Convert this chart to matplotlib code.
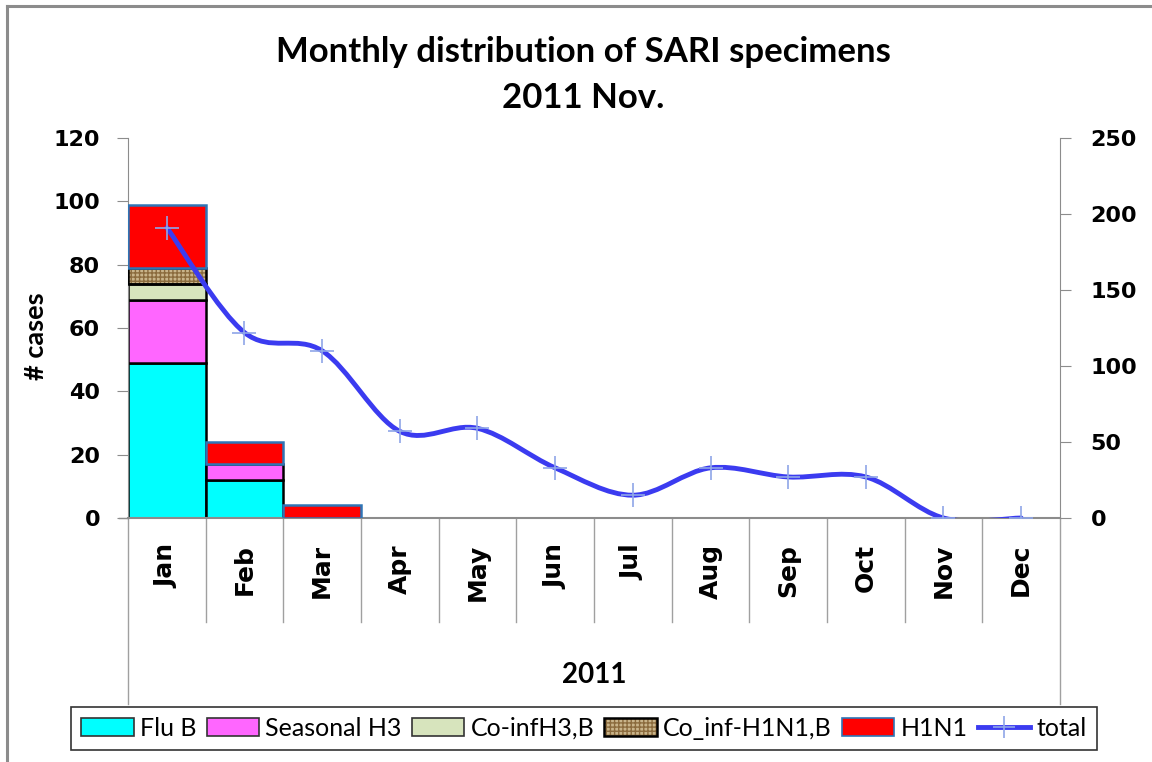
import matplotlib
matplotlib.use("Agg")
import matplotlib.pyplot as plt
import numpy as np
from matplotlib.patches import Patch
from matplotlib.lines import Line2D
from matplotlib.path import Path
from matplotlib.patches import PathPatch
from matplotlib.legend_handler import HandlerTuple

months = ["Jan", "Feb", "Mar", "Apr", "May", "Jun", "Jul", "Aug", "Sep", "Oct", "Nov", "Dec"]
flu_b = [49, 12, 0, 0, 0, 0, 0, 0, 0, 0, 0, 0]
seasonal_h3 = [20, 5, 0, 0, 0, 0, 0, 0, 0, 0, 0, 0]
coinf_h3_b = [5, 0, 0, 0, 0, 0, 0, 0, 0, 0, 0, 0]
coinf_h1n1_b = [5, 0, 0, 0, 0, 0, 0, 0, 0, 0, 0, 0]
h1n1 = [20, 7, 4, 0, 0, 0, 0, 0, 0, 0, 0, 0]
total = [191, 122, 110, 57, 59, 33, 15, 33, 27, 27, 0, 0]
left_ticks = [0, 20, 40, 60, 80, 100, 120]
right_ticks = [0, 50, 100, 150, 200, 250]

W, H = 1152, 762
fig = plt.figure(figsize=(W / 100, H / 100), dpi=100)

def fx(px):
    return px / W

def fy(py):
    return 1 - py / H

L, R, T, B = 128, 1060, 138, 518
ax = fig.add_axes([fx(L), fy(B), fx(R) - fx(L), fy(T) - fy(B)])
ax2 = ax.twinx()

gray = "#8c8c8c"
x = np.arange(len(months))
series = [
    ("Flu B", flu_b, "#00FFFF", "black"),
    ("Seasonal H3", seasonal_h3, "#FF66FF", "black"),
    ("Co-infH3,B", coinf_h3_b, "#D7E4BD", "black"),
    ("Co_inf-H1N1,B", coinf_h1n1_b, "#C9B48A", "black"),
    ("H1N1", h1n1, "#FF0000", "#2E75B6"),
]
bottom = np.zeros(len(months))
handles = []
for name, vals, fc, ec in series:
    vals = np.array(vals, dtype=float)
    mask = vals > 0
    if name == "Co_inf-H1N1,B":
        ax.bar(x[mask], vals[mask], bottom=bottom[mask], width=1.0, color=fc,
               edgecolor="#8B6B3D", hatch="++++", linewidth=0, zorder=2)
        ax.bar(x[mask], vals[mask], bottom=bottom[mask], width=1.0, fill=False,
               edgecolor=ec, linewidth=1.8, zorder=3)
        h = (Patch(facecolor=fc, edgecolor="#8B6B3D", hatch="++++", linewidth=0),
             Patch(fill=False, edgecolor="black", linewidth=1.8))
    else:
        ax.bar(x[mask], vals[mask], bottom=bottom[mask], width=1.0, color=fc,
               edgecolor=ec, linewidth=1.8, zorder=3 if ec != "black" else 2.5)
        h = Patch(facecolor=fc, edgecolor=ec if ec != "black" else "#333333", linewidth=1.2)
    handles.append((h, name))
    bottom += vals

ax.set_xlim(-0.5, len(months) - 0.5)
ax.set_ylim(0, 120)
ax.set_yticks(left_ticks)
ax2.set_ylim(0, 250)
ax2.set_yticks(right_ticks)

# smoothed total line (Excel-like Bezier smoothing)
tx = x.astype(float)
ty = np.array(total, dtype=float)
verts = [(tx[0], ty[0])]
codes = [Path.MOVETO]
n = len(tx)
for i in range(n - 1):
    p0 = np.array([tx[max(i - 1, 0)], ty[max(i - 1, 0)]])
    p1 = np.array([tx[i], ty[i]])
    p2 = np.array([tx[i + 1], ty[i + 1]])
    p3 = np.array([tx[min(i + 2, n - 1)], ty[min(i + 2, n - 1)]])
    c1 = p1 + (p2 - p0) / 6.0
    c2 = p2 - (p3 - p1) / 6.0
    verts += [tuple(c1), tuple(c2), tuple(p2)]
    codes += [Path.CURVE4] * 3
ax2.add_patch(PathPatch(Path(verts, codes), fill=False, edgecolor="#3B3BF0",
                        linewidth=3.5, capstyle="round", joinstyle="round", zorder=4))
ax2.plot(tx, ty, linestyle="none", marker="+", markersize=17, mew=1.2,
         color="#8FA6E8", zorder=5)
line_handle = Line2D([], [], color="#3B3BF0", linewidth=3.5, marker="+",
                     markersize=16, mew=1.2, markeredgecolor="#8FA6E8")
handles.append((line_handle, "total"))

for a in (ax, ax2):
    for s in a.spines.values():
        s.set_visible(False)
    a.tick_params(axis="x", length=0, labelbottom=False)
    a.set_xticks([])
ax.spines["left"].set_visible(True)
ax.spines["left"].set_color(gray)
ax.spines["bottom"].set_visible(True)
ax.spines["bottom"].set_color(gray)
ax.spines["bottom"].set_linewidth(1.5)
ax2.spines["right"].set_visible(True)
ax2.spines["right"].set_color(gray)
ax.tick_params(axis="y", direction="out", length=8, color=gray, pad=12,
               labelsize=16)
ax2.tick_params(axis="y", direction="out", length=8, color=gray, pad=14,
                labelsize=16)
for lab in ax.get_yticklabels() + ax2.get_yticklabels():
    lab.set_fontweight("bold")
    lab.set_fontfamily("DejaVu Sans")
ax.set_facecolor("none")

# category separators and outer bounds
for b in np.arange(-0.5, len(months), 1.0):
    ybot = (622 - B) if 0 < b < len(months) - 1 else (704 - B)
    ax.plot([b, b], [0, -ybot / (B - T) * 120], color="#a0a0a0", linewidth=1.0,
            clip_on=False, zorder=1)
ax.plot([-0.5, -0.62], [0, 0], color=gray, lw=1.0, clip_on=False)

for i, m in enumerate(months):
    ax.text(i, -(544 - B) / (B - T) * 120, m, rotation=90, ha="center", va="top",
            fontsize=18, fontweight="bold", fontfamily="DejaVu Sans")
ax.text((len(months) - 1) / 2, -(675 - B) / (B - T) * 120, "2011", ha="center",
        va="center", fontsize=20, fontweight="bold", fontfamily="Lato")

fig.text(fx(36), fy(336), "# cases", rotation=90, ha="center", va="center",
         fontsize=19.5, fontweight="bold", fontfamily="Lato")
fig.text(fx(583), fy(52), "Monthly distribution of SARI specimens", ha="center",
         va="center", fontsize=25, fontweight="bold", fontfamily="Lato")
fig.text(fx(583), fy(98), "2011 Nov.", ha="center", va="center", fontsize=25,
         fontweight="bold", fontfamily="Lato")

leg = fig.legend([h for h, _ in handles], [n_ for _, n_ in handles], ncol=6,
                 loc="center", bbox_to_anchor=(fx(584), fy(728)),
                 frameon=True, fancybox=False, edgecolor="black",
                 handlelength=2.1, handleheight=0.75, handletextpad=0.25,
                 columnspacing=0.4, borderpad=0.4,
                 prop={"family": "Lato", "size": 18},
                 handler_map={tuple: HandlerTuple(ndivide=1)})
leg.get_frame().set_linewidth(1.2)

# chart area border (top and left edges visible)
fig.add_artist(Line2D([fx(7), fx(7)], [fy(6), 0], transform=fig.transFigure,
                      color="#8c8c8c", linewidth=2.2))
fig.add_artist(Line2D([fx(7), 1], [fy(6), fy(6)], transform=fig.transFigure,
                      color="#8c8c8c", linewidth=2.2))

fig.savefig("out.png", dpi=100)
